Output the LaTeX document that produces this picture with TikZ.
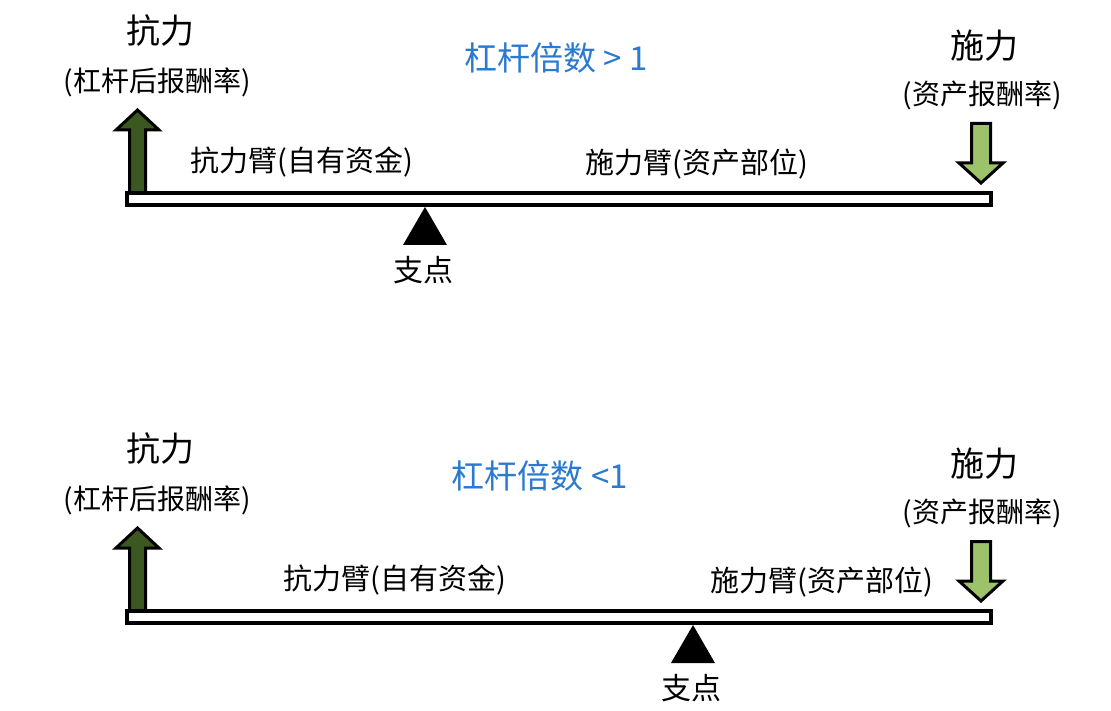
\documentclass[tikz,border=0pt]{standalone}
\usepackage{fontspec}
\setmainfont{Noto Sans CJK SC}
\definecolor{ratioblue}{RGB}{42,122,208}
\definecolor{pullgreen}{RGB}{58,88,32}
\definecolor{pushgreen}{RGB}{156,195,106}
\tikzset{
  force/.style={font=\fontsize{34}{38}\selectfont, inner sep=0pt},
  rate/.style={font=\fontsize{28}{32}\selectfont, inner sep=0pt},
  arm/.style={font=\fontsize{29}{33}\selectfont, inner sep=0pt},
  pivotlabel/.style={font=\fontsize{30}{34}\selectfont, inner sep=0pt},
  ratio/.style={font=\fontsize{33}{37}\selectfont, text=ratioblue, inner sep=0pt},
  lever/.style={draw, line width=4pt, fill=white, minimum width=864pt, minimum height=12pt, inner sep=0pt},
  pull/.style={draw, line width=3pt, fill=pullgreen},
  push/.style={draw, line width=3pt, fill=pushgreen},
}
\begin{document}
\begin{tikzpicture}[x=1pt,y=-1pt]
\useasboundingbox (0,0) rectangle (1111,711);
\foreach \i/\dy/\fx/\ax/\bx/\tx/\ttext in {1/0/425/302/697/556/{杠杆倍数 > 1},2/418/693/395/822/540/{杠杆倍数 <1}}{
\begin{scope}[shift={(0,\dy)}]
% forces and labels
\node [force] (resist\i) at (160,31) {抗力};
\node [rate] (resistrate\i) at (157,82) {(杠杆后报酬率)};
\node [force] (effort\i) at (984,46) {施力};
\node [rate] (effortrate\i) at (982,95) {(资产报酬率)};
\node [ratio] (ratio\i) at (\tx,58) {\ttext};
\node [arm] (resistarm\i) at (\ax,162) {抗力臂(自有资金)};
\node [arm] (effortarm\i) at (\bx,164) {施力臂(资产部位)};
% arrows
\draw [pull] (129.5,195) -- (129.5,130) -- (116,130) -- (137.5,110) -- (159,130) -- (145.5,130) -- (145.5,195) -- cycle;
\draw [push] (971.5,123.5) -- (990.5,123.5) -- (990.5,163) -- (1003,163) -- (981,183) -- (959,163) -- (971.5,163) -- cycle;
% lever and fulcrum
\node [lever] (bar\i) at (559,199) {};
\coordinate (tip\i) at (\fx,207);
\fill (tip\i) -- (\fx-22,245) -- (\fx+22,245) -- cycle;
\node [pivotlabel] (fulcrum\i) at (\fx-2,270) {支点};
\end{scope}
}
\end{tikzpicture}
\end{document}
